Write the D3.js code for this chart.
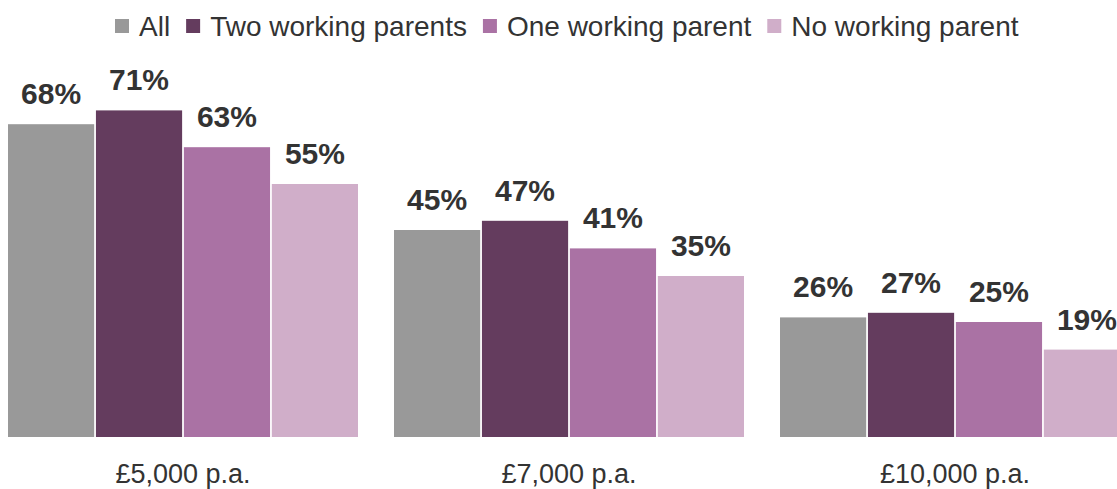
<!DOCTYPE html>
<html>
<head>
<meta charset="utf-8">
<script src="https://cdn.jsdelivr.net/npm/d3@7"></script>
<style>
  body { margin: 0; background: #fff; }
  text { font-family: "Liberation Sans", Arial, sans-serif; fill: #333; }
</style>
</head>
<body>
<div id="chartArea"></div>
<script>
var categories = ['£5,000 p.a.', '£7,000 p.a.', '£10,000 p.a.'];
var series = ['All', 'Two working parents', 'One working parent', 'No working parent'];
var colours = ['#999999', '#643c5e', '#aa72a4', '#d0aec9'];
// percentages, one array per series, in category order
var allValues = [68, 45, 26];
var twoValues = [71, 47, 27];
var oneValues = [63, 41, 25];
var noneValues = [55, 35, 19];
var values = [allValues, twoValues, oneValues, noneValues];

var width = 1117, height = 489;
var baseline = 437;

var svg = d3.select('#chartArea').append('svg')
    .attr('width', width)
    .attr('height', height);

var x0 = d3.scaleBand().domain(categories).range([8, 1130]).paddingInner(0.0933);
var x1 = d3.scaleBand().domain(series).range([0, x0.bandwidth()]).paddingInner(0.02);
var y = d3.scaleLinear().domain([0, 95]).range([baseline, 0]);
var colour = d3.scaleOrdinal().domain(series).range(colours);

var rows = [];
series.forEach(function(s, i) {
    categories.forEach(function(c, j) {
        rows.push({series: s, category: c, value: values[i][j]});
    });
});

var g = svg.append('g');
g.selectAll('rect').data(rows).enter().append('rect')
    .attr('x', function(d) { return x0(d.category) + x1(d.series); })
    .attr('y', function(d) { return y(d.value); })
    .attr('width', x1.bandwidth())
    .attr('height', function(d) { return baseline - y(d.value); })
    .attr('fill', function(d) { return colour(d.series); });

g.selectAll('text.val').data(rows).enter().append('text')
    .attr('class', 'val')
    .attr('x', function(d) { return x0(d.category) + x1(d.series) + x1.bandwidth() / 2; })
    .attr('y', function(d) { return y(d.value) - 20; })
    .attr('text-anchor', 'middle')
    .style('font-size', '30px')
    .style('font-weight', 'bold')
    .text(function(d) { return d.value + '%'; });

// category axis, no line or ticks
var axis = svg.append('g')
    .attr('transform', 'translate(0,' + baseline + ')')
    .call(d3.axisBottom(x0).tickSize(0).tickPadding(0));
axis.select('.domain').remove();
axis.selectAll('text')
    .attr('y', 46)
    .attr('dy', null)
    .style('font-size', '27px')
    .style('font-family', '"Liberation Sans", Arial, sans-serif')
    .attr('fill', '#333');

// legend
var legend = svg.append('g');
var lx = 115;
series.forEach(function(s) {
    legend.append('rect')
        .attr('x', lx).attr('y', 19)
        .attr('width', 14).attr('height', 14)
        .attr('fill', colour(s));
    var t = legend.append('text')
        .attr('x', lx + 24).attr('y', 36)
        .style('font-size', '28px')
        .text(s);
    lx += 24 + t.node().getComputedTextLength() + 16;
});
</script>
</body>
</html>
